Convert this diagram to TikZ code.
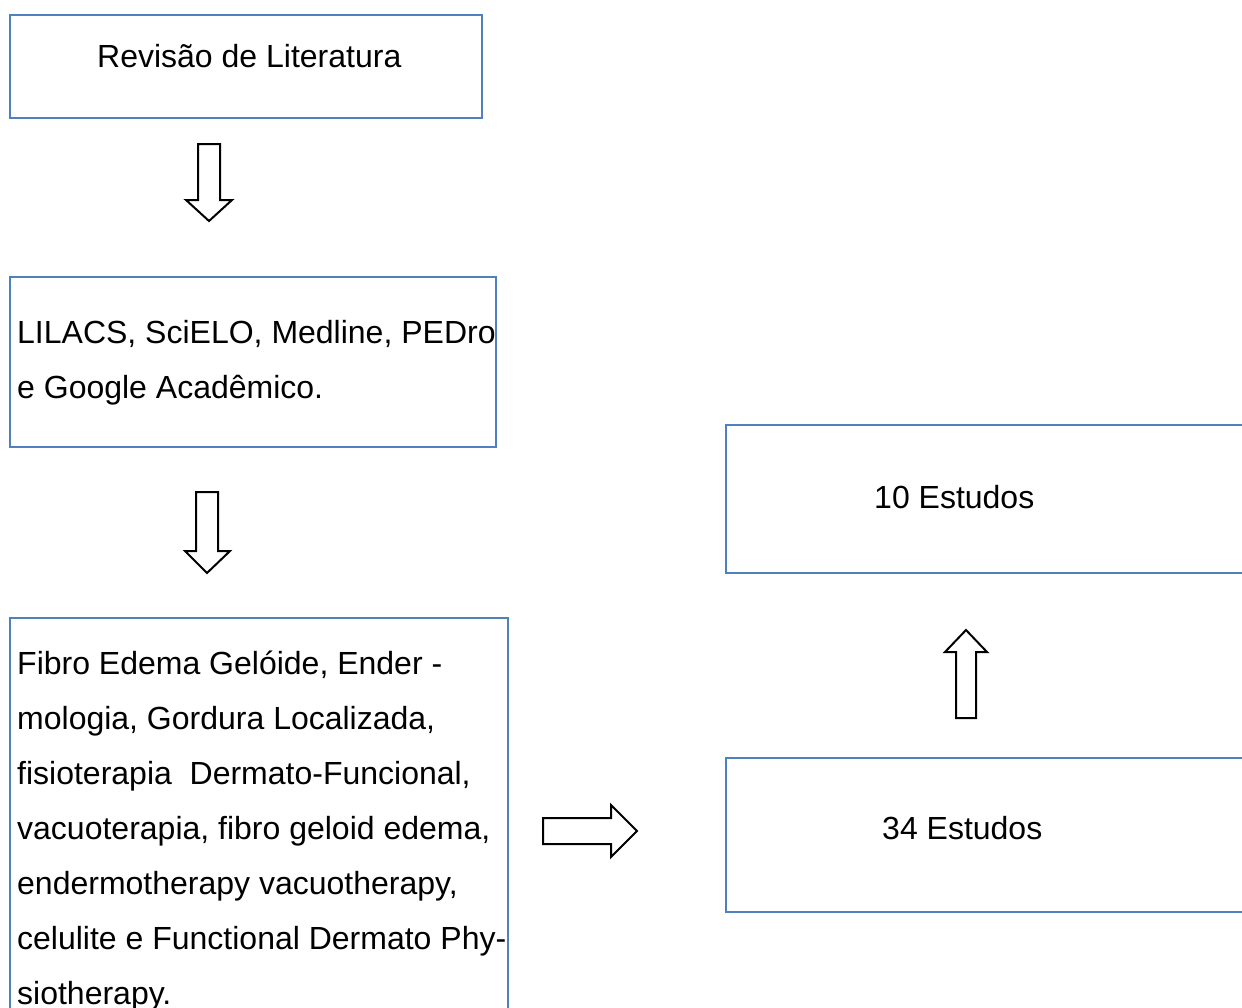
\documentclass[tikz,border=0pt]{standalone}
\usepackage{fontspec}
\setmainfont{Liberation Sans}
\definecolor{boxblue}{RGB}{79,129,189}
\begin{document}
\begin{tikzpicture}[x=1pt,y=-1pt,
  boxline/.style={draw=boxblue,line width=2pt},
  blockarrow/.style={draw=black,line width=2pt,fill=white,line join=miter},
  txt/.style={inner sep=0pt,anchor=base west,font=\fontsize{32}{55}\selectfont}]
\useasboundingbox (0,0) rectangle (1242,1007);
\clip (0,0) rectangle (1242,1007);
% boxes
\draw[boxline] (10,15) rectangle (482,118);
\coordinate (b1) at (246,118);
\draw[boxline] (10,277) rectangle (496,447);
\draw[boxline] (10,618) rectangle (508,1030);
\draw[boxline] (726,425) rectangle (1260,573);
\draw[boxline] (726,758) rectangle (1260,912);
% texts
\node[txt] (t1) at (97,67) {Revisão de Literatura};
\node[txt] (t2a) at (17,343) {LILACS, SciELO, Medline, PEDro};
\node[txt] (t2b) at (17,398) {e Google Acadêmico.};
\node[txt] (f1) at (17,674) {Fibro Edema Gelóide, Ender -};
\node[txt] (f2) at (17,729) {mologia, Gordura Localizada,};
\node[txt] (f3) at (17,784) {fisioterapia\ \ Dermato-Funcional,};
\node[txt] (f4) at (17,839) {vacuoterapia, fibro geloid edema,};
\node[txt] (f5) at (17,894) {endermotherapy vacuotherapy,};
\node[txt] (f6) at (17,949) {celulite e Functional Dermato Phy-};
\node[txt] (f7) at (17,1004) {siotherapy.};
\node[txt] (t10) at (874,508) {10 Estudos};
\node[txt] (t34) at (882,839) {34 Estudos};
% block arrows
\draw[blockarrow] (198,144) -- (220,144) -- (220,200) -- (232,200) -- (209,221) -- (186,200) -- (198,200) -- cycle;
\draw[blockarrow] (196,492) -- (218,492) -- (218,551) -- (230,551) -- (207,573) -- (185,551) -- (196,551) -- cycle;
\draw[blockarrow] (543,818) -- (611,818) -- (611,805) -- (637,831) -- (611,857) -- (611,844) -- (543,844) -- cycle;
\draw[blockarrow] (956,718) -- (956,652) -- (945,652) -- (966,630) -- (987,652) -- (976,652) -- (976,718) -- cycle;
\end{tikzpicture}
\end{document}
